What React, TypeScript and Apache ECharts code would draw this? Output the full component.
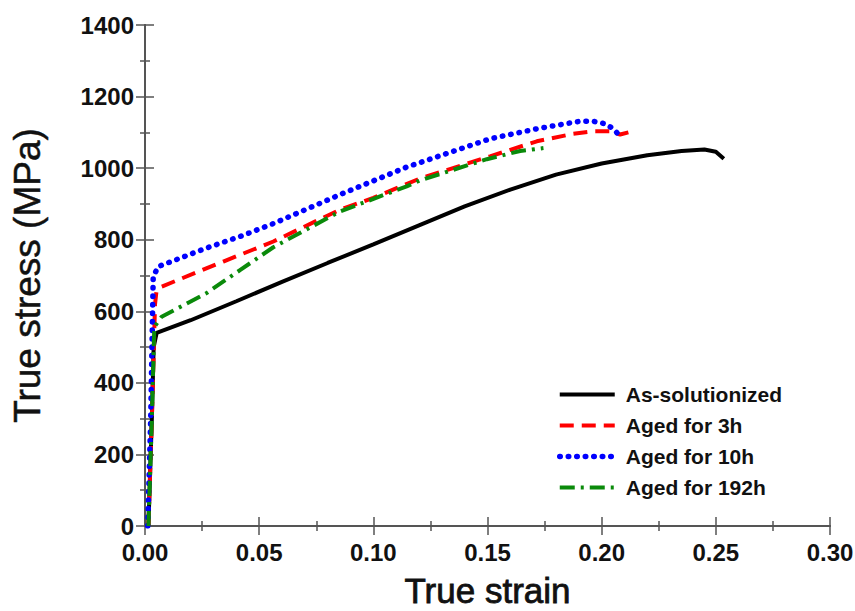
import React, { useEffect, useRef } from "react";
import * as echarts from "echarts";

const xTicks = [0, 0.05, 0.1, 0.15, 0.2, 0.25, 0.3];
const yTicks = [0, 200, 400, 600, 800, 1000, 1200, 1400];
const seriesNames = ["As-solutionized", "Aged for 3h", "Aged for 10h", "Aged for 192h"];

const strainSolution = [0.0015, 0.003, 0.0038, 0.0051, 0.02, 0.04, 0.06, 0.08, 0.10, 0.12, 0.14, 0.16, 0.18, 0.20, 0.22, 0.235, 0.245, 0.25, 0.2535];
const stressSolution = [0, 300, 500, 540, 575, 628, 682, 735, 787, 840, 893, 940, 982, 1013, 1036, 1048, 1052, 1046, 1026];

const strain3h = [0.0015, 0.003, 0.0044, 0.005, 0.0073, 0.0343, 0.0562, 0.0854, 0.10, 0.12, 0.1511, 0.1716, 0.1876, 0.1964, 0.2037, 0.2081, 0.2117];
const stress3h = [0, 300, 620, 655, 669, 739, 795, 884, 917, 970, 1033, 1075, 1096, 1103, 1103, 1094, 1100];

const strain10h = [0.0012, 0.0025, 0.0036, 0.0058, 0.027, 0.0416, 0.0562, 0.0854, 0.1146, 0.1511, 0.1716, 0.1905, 0.1963, 0.2015, 0.2051, 0.2081];
const stress10h = [0, 300, 697, 725, 777, 809, 845, 926, 1003, 1082, 1110, 1131, 1131, 1124, 1110, 1089];

const strain192h = [0.0015, 0.003, 0.004, 0.0045, 0.0073, 0.027, 0.0416, 0.0562, 0.0854, 0.1146, 0.1205, 0.1497, 0.1643, 0.1745];
const stress192h = [0, 300, 540, 560, 585, 651, 715, 779, 879, 949, 966, 1025, 1048, 1056];

const FONT = "'Liberation Sans', Arial, sans-serif";

function pairs(xs: number[], ys: number[]) {
  return xs.map((x, i) => [x, ys[i]]);
}

export default function App() {
  const ref = useRef<HTMLDivElement>(null);
  useEffect(() => {
    if (!ref.current) return;
    const chart = echarts.init(ref.current, undefined, { renderer: "svg" });
    const axisLine = { show: true, lineStyle: { color: "#555", width: 2 } };
    const tickStyle = { color: "#555", width: 1.5 };
    const baseX = {
      type: "value" as const,
      min: xTicks[0],
      max: xTicks[xTicks.length - 1],
      interval: 0.05,
      splitLine: { show: false },
      axisLine,
      axisTick: { show: true, inside: true, length: 9, lineStyle: tickStyle },
      minorTick: { show: true, splitNumber: 2, length: 5, lineStyle: tickStyle },
    };
    const baseY = {
      type: "value" as const,
      min: yTicks[0],
      max: yTicks[yTicks.length - 1],
      interval: 200,
      splitLine: { show: false },
      axisLine,
      axisTick: { show: true, inside: true, length: 9, lineStyle: tickStyle },
      minorTick: { show: true, splitNumber: 2, length: 5, lineStyle: tickStyle },
    };
    const lw = 4;
    const styles = [
      { color: "#000000", width: lw, type: "solid" as any },
      { color: "#ff0000", width: lw, type: [14, 8] as any },
      { color: "#0000ff", width: 5.5, type: [0.5, 8] as any, cap: "round" as const },
      { color: "#0a8a0a", width: lw, type: [15, 6, 3, 6] as any },
    ];
    const dataSets = [
      pairs(strainSolution, stressSolution),
      pairs(strain3h, stress3h),
      pairs(strain10h, stress10h),
      pairs(strain192h, stress192h),
    ];
    chart.setOption({
      animation: false,
      backgroundColor: "#fff",
      grid: { left: 145, top: 25, right: 25, bottom: 85, containLabel: false, outerBoundsMode: "none" },
      xAxis: [
        {
          ...baseX,
          position: "bottom",
          name: "True strain",
          nameLocation: "middle",
          nameGap: 47,
          nameTextStyle: { fontFamily: FONT, fontSize: 35, lineHeight: 35, color: "#111", textBorderColor: "#111", textBorderWidth: 0.8 },
          axisLabel: {
            fontFamily: FONT,
            fontSize: 24,
            fontWeight: "bold",
            color: "#111",
            margin: 14,
            formatter: (v: number) => v.toFixed(2),
          },
        },
        { ...baseX, position: "top", axisLabel: { show: false } },
      ],
      yAxis: [
        {
          ...baseY,
          position: "left",
          name: "True stress (MPa)",
          nameLocation: "middle",
          nameGap: 99,
          nameTextStyle: { fontFamily: FONT, fontSize: 37, color: "#111", textBorderColor: "#111", textBorderWidth: 0.5 },
          axisLabel: {
            fontFamily: FONT,
            fontSize: 24,
            fontWeight: "bold",
            color: "#111",
            margin: 11,
            formatter: (v: number) => String(v),
          },
        },
        { ...baseY, position: "right", axisLabel: { show: false } },
      ],
      legend: {
        orient: "vertical",
        left: 552,
        top: 377,
        itemWidth: 55,
        itemHeight: 14,
        itemGap: 6,
        itemStyle: { opacity: 0 },
        textStyle: {
          fontFamily: FONT,
          fontSize: 21,
          fontWeight: "bold",
          color: "#111",
          lineHeight: 25,
          padding: [0, 0, 0, 6],
        },
        data: seriesNames.map((name, i) => ({ name, lineStyle: { ...styles[i] } })),
      },
      series: seriesNames.map((name, i) => ({
        name,
        type: "line",
        showSymbol: false,
        symbol: "none",
        data: dataSets[i],
        lineStyle: styles[i],
        itemStyle: { color: styles[i].color },
      })),
    });
    return () => chart.dispose();
  }, []);
  return (
    <div
      ref={ref}
      style={{ position: "absolute", left: 0, top: 0, width: 855, height: 611 }}
    />
  );
}
